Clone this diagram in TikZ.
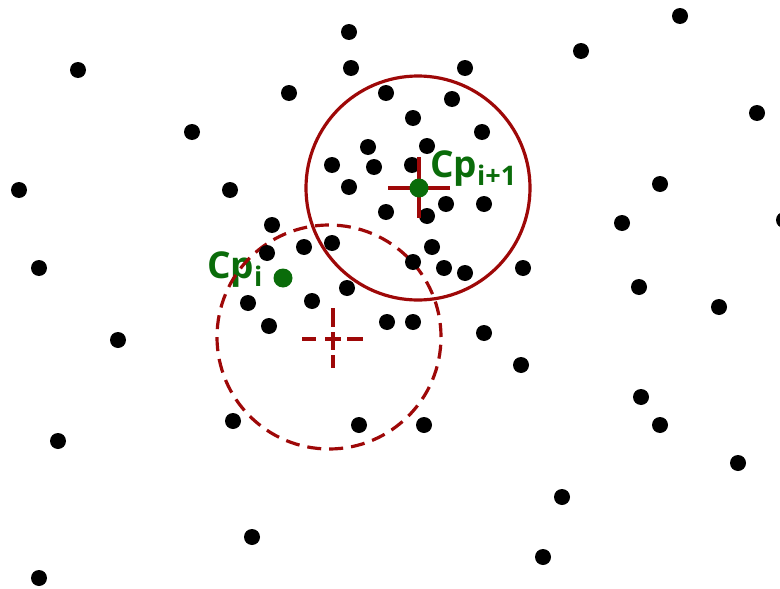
\documentclass[tikz,border=0pt]{standalone}
\usepackage{fontspec}
\setmainfont{Open Sans}
\definecolor{mred}{RGB}{158,8,8}
\definecolor{mgreen}{RGB}{10,108,10}
\tikzset{
  dot/.style={circle,fill=black,inner sep=0pt,minimum size=16pt},
  gdot/.style={circle,fill=mgreen,inner sep=0pt,minimum size=19pt},
  ring/.style={circle,draw=mred,line width=3.2pt,inner sep=0pt,minimum size=224pt},
  dring/.style={ring,dash pattern=on 14pt off 8pt},
  crossline/.style={draw=mred,line width=3.2pt},
  lbl/.style={text=mgreen,inner sep=0pt,anchor=base west,font=\bfseries\fontsize{37}{37}\selectfont}
}
\begin{document}
\begin{tikzpicture}[x=1pt,y=-1pt]
\useasboundingbox (0,0) rectangle (780,589);
% labels (under the circles)
\node[lbl] (lnext) at (430,177) {Cp\raisebox{-8pt}{\fontsize{27}{27}\selectfont i+1}};
\node[lbl] (li) at (207,278) {Cp\raisebox{-8pt}{\fontsize{27}{27}\selectfont i}};
% circles
\node[ring] (solidring) at (418,188) {};
\node[dring] (dashring) at (329,337) {};
% dots
\foreach [count=\i] \x/\y in {349/32,351/68,78/70,289/93,386/93,192/132,19/190,230/190,368/147,332/165,374/167,349/187,386/212,272/225,304/247,332/243,267/253,347/288,39/268,248/303,312/301,269/326,387/322,413/322,118/340,58/441,233/421,359/425,424/425,252/537,39/578,680/16,581/51,465/68,757/113,452/99,413/118,482/132,427/146,412/165,660/184,446/204,484/204,427/216,622/223,784/220,432/247,413/262,444/268,465/273,523/268,639/287,719/307,484/333,521/365,641/397,660/425,738/463,562/497,543/557}
  \node[dot] (d\i) at (\x,\y) {};
% solid cross
\coordinate (sc) at (419,188);
\draw[crossline] ([xshift=-31pt]sc) -- ([xshift=31pt]sc);
\draw[crossline] ([yshift=31pt]sc) -- ([yshift=-30pt]sc);
% dashed cross
\coordinate (dc) at (333,339);
\draw[crossline] ([xshift=-31pt]dc) -- ([xshift=-17pt]dc);
\draw[crossline] ([xshift=-8pt]dc) -- ([xshift=8pt]dc);
\draw[crossline] ([xshift=14pt]dc) -- ([xshift=30pt]dc);
\draw[crossline] ([yshift=31pt]dc) -- ([yshift=12pt]dc);
\draw[crossline] ([yshift=7pt]dc) -- ([yshift=-11pt]dc);
\draw[crossline] ([yshift=-16pt]dc) -- ([yshift=-29pt]dc);
% green points
\node[gdot] (cpnext) at (419,188) {};
\node[gdot] (cpi) at (283,278) {};
\end{tikzpicture}
\end{document}
